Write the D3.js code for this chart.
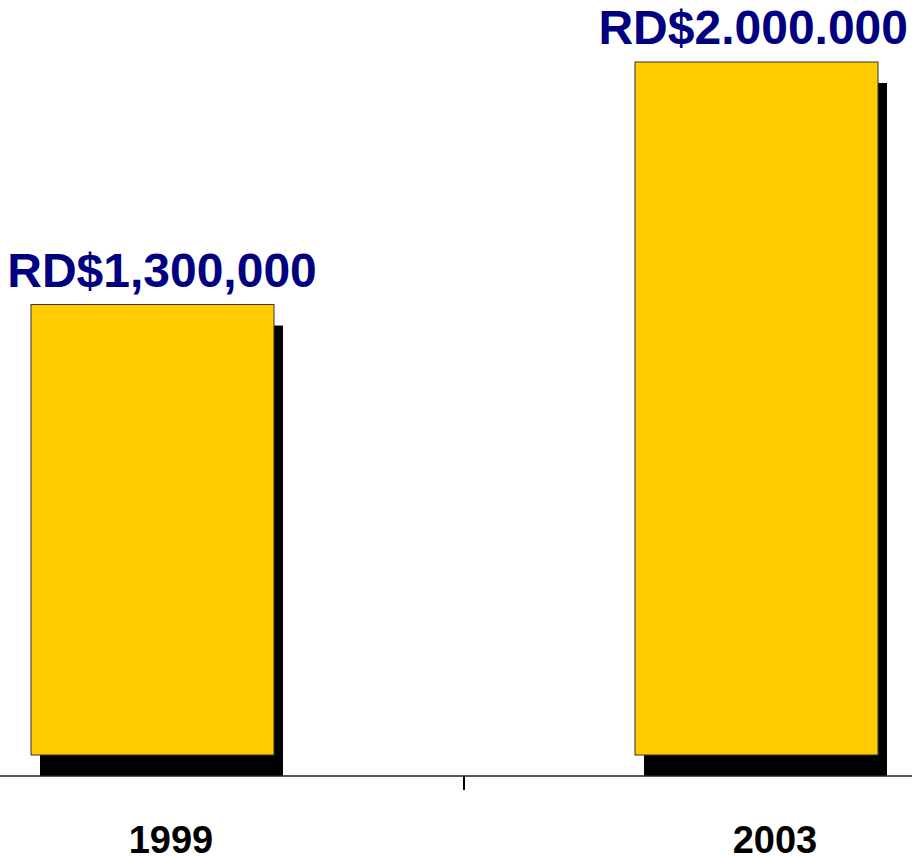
<!DOCTYPE html>
<html>
<head>
<meta charset="utf-8">
<script src="https://cdn.jsdelivr.net/npm/d3@7"></script>
<style>
  html, body { margin: 0; padding: 0; background: #fff; }
  svg { display: block; font-family: "Liberation Sans", Arial, sans-serif; }
</style>
</head>
<body>
<div id="chart"></div>
<script>
const years = ["1999", "2003"];
const amounts = [1300000, 2000000];
const valueLabels = ["RD$1,300,000", "RD$2.000.000"];

const width = 912, height = 857;
const barColor = "#ffcc00";
const labelColor = "#000080";

const svg = d3.select("#chart").append("svg")
    .attr("width", width)
    .attr("height", height);

// band scale: category boundary falls at the middle tick
const xScale = d3.scaleBand()
    .domain(years)
    .range([-140, 1068])
    .padding(0);

const yScale = d3.scaleLinear()
    .domain([0, 2000000])
    .range([755, 62]);

const barWidth = 243;
const shadowDx = 9, shadowDy = 21;
const barCenter = d => xScale(d) + xScale.bandwidth() / 2 - 9.5;

const data = years.map((y, i) => ({year: y, value: amounts[i], label: valueLabels[i]}));

// Shadows
svg.append("g")
    .selectAll("rect")
    .data(data)
    .enter()
    .append("rect")
    .attr("x", d => barCenter(d.year) - barWidth / 2 + shadowDx)
    .attr("y", d => yScale(d.value) + shadowDy)
    .attr("width", barWidth)
    .attr("height", d => yScale(0) - yScale(d.value))
    .attr("fill", "#000");

// Bars
svg.append("g")
    .selectAll("rect")
    .data(data)
    .enter()
    .append("rect")
    .attr("x", d => barCenter(d.year) - barWidth / 2)
    .attr("y", d => yScale(d.value))
    .attr("width", barWidth)
    .attr("height", d => yScale(0) - yScale(d.value))
    .attr("fill", barColor)
    .attr("stroke", "#333")
    .attr("stroke-width", 1);

// Axis
const axisY = yScale(0) + shadowDy;
svg.append("line")
    .attr("x1", 0)
    .attr("x2", width)
    .attr("y1", axisY)
    .attr("y2", axisY)
    .attr("stroke", "#222")
    .attr("stroke-width", 1.5);

svg.append("line")
    .attr("x1", xScale("2003"))
    .attr("x2", xScale("2003"))
    .attr("y1", axisY)
    .attr("y2", axisY + 14)
    .attr("stroke", "#000")
    .attr("stroke-width", 2);

// Year labels
svg.append("g")
    .selectAll("text")
    .data(data)
    .enter()
    .append("text")
    .attr("x", d => xScale(d.year) + xScale.bandwidth() / 2 + 9)
    .attr("y", 853)
    .attr("text-anchor", "middle")
    .attr("font-weight", "bold")
    .attr("font-size", "38px")
    .attr("fill", "#000")
    .text(d => d.year);

// Value labels, kept inside the picture
svg.append("g")
    .selectAll("text")
    .data(data)
    .enter()
    .append("text")
    .attr("x", d => xScale(d.year) + xScale.bandwidth() / 2)
    .attr("y", d => yScale(d.value) - 18)
    .attr("text-anchor", "middle")
    .attr("font-weight", "bold")
    .attr("font-size", "48px")
    .attr("fill", labelColor)
    .text(d => d.label)
    .each(function() {
        const t = d3.select(this);
        const half = this.getComputedTextLength() / 2;
        const x = +t.attr("x");
        if (x + half > width - 4) t.attr("x", width - 4 - half);
    });
</script>
</body>
</html>
